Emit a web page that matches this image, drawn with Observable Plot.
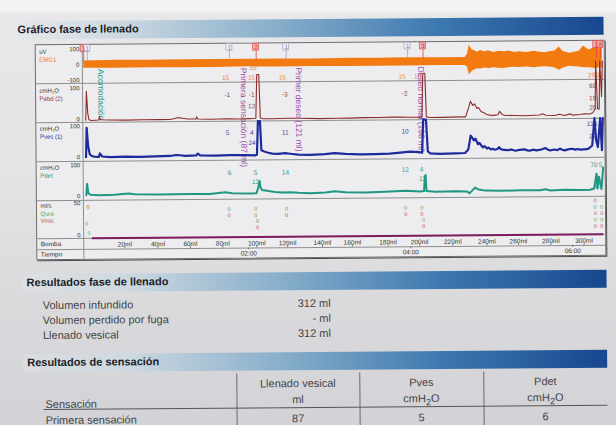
<!DOCTYPE html>
<html><head><meta charset="utf-8">
<script src="https://cdn.jsdelivr.net/npm/d3@7"></script>
<script src="https://cdn.jsdelivr.net/npm/@observablehq/plot@0.6"></script>
<style>
html,body{margin:0;padding:0;}
body{width:616px;height:425px;overflow:hidden;position:relative;font-family:"Liberation Sans",Arial,sans-serif;
 background:linear-gradient(180deg,#f4f4f4 0px,#f2f2f3 11px,#e7e7e9 14px,#e5e5e8 160px,#dadadd 300px,#d3d3d7 425px);}
#rot{position:absolute;left:0;top:0;width:616px;height:425px;transform:rotate(-0.45deg);transform-origin:308px 212px;}
.bar{position:absolute;height:18px;background:linear-gradient(90deg,rgba(228,233,236,0.3) 0%,#cdd9e1 18%,#86adca 45%,#3c78b0 72%,#17478f 100%);}
.bar span{position:absolute;left:4px;top:2px;font-weight:bold;font-size:11px;color:#1c1c26;}
#frame{position:absolute;left:36px;top:42px;width:568px;height:214px;border:1px solid #6c6c6c;box-shadow:1px 1px 0 #4a4a4a;background:#ededef;}
.row{position:absolute;left:0;width:568px;}
.hline{position:absolute;left:0;width:568px;height:1px;background:#8e8e8e;}
.vline{position:absolute;left:46px;top:0;width:1px;height:214px;background:#8e8e8e;}
.txt{position:absolute;font-size:11px;color:#444;white-space:nowrap;line-height:12px;}
.vl{position:absolute;width:1px;background:#6a6a6a;}
</style></head><body>
<div id="rot">
  <div class="bar" style="left:15px;top:19px;width:590px"><span>Gráfico fase de llenado</span></div>
  <div id="frame"><div class="vline"></div></div>
  <div class="bar" style="left:22px;top:272px;width:584px"><span>Resultados fase de llenado</span></div>
  <div id="res1"></div>
  <div class="bar" style="left:22px;top:352px;width:584px"><span>Resultados de sensación</span></div>
  <div id="res2"></div>
</div>
<script>
// ---------- DATA (time in minutes) ----------
const emgT  = [-0.02,0.40,0.79,1.20,1.60,2.02,2.40,2.80,3.26,3.60,4.00,4.40,4.69,4.72,4.74,4.78,4.81,4.84,4.88,4.93,4.98,5.05,5.10,5.17,5.24,5.30,5.36,5.45,5.54,5.62,5.68,5.73,5.80,5.85,5.90,5.98,6.04,6.10,6.15,6.22,6.27,6.30,6.35,6.383];
const emgHi = [25,27,26,28,27,27,28,26,28,27,28,27,28,50,105,75,70,60,72,64,70,58,66,62,68,58,62,56,64,58,54,60,65,90,62,50,56,62,95,70,80,92,75,85];
const emgLo = [-22,-24,-23,-24,-25,-22,-24,-23,-24,-25,-24,-23,-24,-35,-85,-60,-52,-45,-48,-42,-44,-40,-43,-45,-40,-38,-40,-37,-42,-38,-36,-38,-45,-60,-45,-35,-38,-40,-45,-45,-48,-50,-45,-45];

const pabdT = [0.00,0.01,0.025,0.04,0.07,0.16,0.17,0.18,0.30,0.50,
 0.70,0.90,1.04,1.10,1.14,1.19,1.26,1.36,1.37,1.38,
 1.55,1.75,1.90,2.02,2.10,2.115,2.14,2.155,2.18,2.30,
 2.50,2.64,2.89,3.10,3.26,3.45,3.63,3.80,3.88,4.00,
 4.15,4.165,4.19,4.205,4.25,4.40,4.62,4.69,4.73,4.75,
 4.78,4.80,4.83,4.85,4.88,4.91,4.95,4.99,5.04,5.09,
 5.11,5.14,5.17,5.30,5.42,5.60,5.64,5.68,5.79,5.85,
 5.91,5.98,6.01,6.10,6.16,6.22,6.26,6.29,6.30,6.32,
 6.34,6.35,6.37,6.383];
const pabdV = [-3,90,20,-2,-4,-3,8,-2,-3,-4,
 -3,-3,-3,0,3,1,-2,-2,5,-2,
 -3,-2,-3,-2,-1,140,140,0,-3,-3,
 -2,-2,-4,-3,-3,-2,-2,-1,-1,-2,
 -2,140,140,-1,-3,-3,-2,-2,30,48,
 35,40,25,28,15,12,5,3,2,4,
 15,5,2,1,0,2,6,1,0,4,
 0,5,1,3,5,4,8,20,175,20,
 20,175,60,175];

const pvesT = [0.00,0.01,0.025,0.045,0.07,0.10,0.16,0.17,0.20,0.30,
 0.48,0.67,0.85,1.04,1.11,1.16,1.23,1.36,1.38,1.41,
 1.59,1.78,1.96,2.09,2.11,2.125,2.15,2.165,2.20,2.25,
 2.30,2.37,2.46,2.52,2.62,2.77,2.95,3.07,3.20,3.38,
 3.57,3.75,3.88,4.00,4.10,4.15,4.165,4.20,4.22,4.25,
 4.37,4.56,4.68,4.72,4.75,4.79,4.81,4.84,4.86,4.88,
 4.90,4.92,4.95,4.97,5.00,5.02,5.05,5.08,5.10,5.12,
 5.14,5.17,5.20,5.25,5.30,5.35,5.42,5.45,5.48,5.52,
 5.56,5.60,5.64,5.67,5.70,5.73,5.78,5.82,5.85,5.88,
 5.91,5.95,6.00,6.04,6.07,6.10,6.15,6.20,6.25,6.28,
 6.30,6.32,6.35,6.37,6.383];
const pvesV = [0,95,40,10,4,2,1,12,2,0,
 1,0,1,2,5,4,2,3,9,3,
 2,3,3,2,4,112,112,18,14,10,
 7,6,8,6,3,2,4,7,4,2,
 3,4,7,10,8,6,113,113,10,4,
 2,3,4,15,60,45,50,32,36,28,
 22,26,18,21,15,17,14,16,22,16,
 14,13,12,14,10,13,14,11,10,13,
 11,12,15,18,13,10,13,11,16,12,
 10,13,15,12,14,12,13,14,25,113,
 40,20,113,10,113];

const pdetT = [0.00,0.01,0.025,0.05,0.17,0.35,0.52,0.60,0.90,1.28,
 1.52,1.72,1.80,2.02,2.10,2.12,2.14,2.15,2.17,2.25,
 2.33,2.42,2.52,2.62,2.77,2.95,3.07,3.20,3.44,3.69,
 3.94,4.12,4.17,4.18,4.19,4.20,4.31,4.56,4.70,4.73,
 4.77,4.80,4.84,4.93,5.11,5.36,5.60,5.67,5.73,5.91,
 6.10,6.22,6.27,6.30,6.31,6.33,6.36,6.383];
const pdetV = [3,40,10,5,3,4,8,5,4,5,
 4,9,6,5,5,20,45,25,16,12,
 9,7,8,6,4,6,10,6,5,7,
 10,7,8,55,60,8,6,7,6,0,
 10,18,12,8,7,8,8,11,7,9,
 8,8,12,60,12,50,10,80];

// event markers (top of EMG channel)
const markerT     = [-0.02,0.025,1.78,2.11,2.48,3.98,4.17,6.31,6.36];
const markerLabel = ["1","1","1","2","1","1","3","1","8"];
const markerKind  = ["red","gray","gray","red","gray","gray","red","red","red"];

// event annotations
const eventT    = [0.19,1.95,2.63,4.14];
const eventText = ["Acomodación","Primera sensación (87 ml)","Primer deseo (121 ml)","Deseo normal (198 ml)"];
const eventKind = ["auto","sens","sens","sens"];

// channel value annotations
const emgNumT = [1.73,2.05,2.07,2.43,3.91,4.10,6.25,6.35];
const emgNumY = [-92,-92,-28,-92,-92,-92,-92,-92];
const emgNum  = ["15","15","15","15","15","16","28","30"];
const pabdNumT = [1.75,2.05,2.05,2.46,3.94,6.26,6.26,6.26];
const pabdNumY = [75,75,38,75,75,95,55,25];
const pabdNum  = ["-1","-1","12","-3","-2","69","18","20"];
const pvesNumT = [1.75,2.05,2.05,2.46,3.94,6.25,6.26];
const pvesNumY = [75,75,42,75,75,95,55];
const pvesNum  = ["5","4","24","11","10","136","22"];
const pdetNumT = [1.77,2.09,2.09,2.46,3.94,4.14,4.15,6.27,6.35,6.30,6.30];
const pdetNumY = [72,72,42,72,78,78,48,88,88,52,22];
const pdetNum  = ["6","5","12","14","12","4","11","70","5","4","11"];
const flowNumT = [0.02,0.00,0.03, 1.76,1.76, 2.09,2.09,2.11,2.11, 2.47,2.47, 3.94,3.94, 4.14,4.14,4.16,4.16, 6.28,6.28,6.28,6.28,6.28, 6.36,6.36,6.36,6.36];
const flowNumY = [44,18,3, 39,29, 39,29,20,10, 39,29, 39,29, 39,29,20,10, 48,38,28,18,8, 38,28,18,8];
const flowNumS = ["Vmic","Qura","Qura", "Qura","Vmic", "Qura","Vmic","Qura","Vmic", "Qura","Vmic", "Qura","Vmic", "Qura","Vmic","Qura","Vmic", "Vmic","Qura","Vmic","Qura","Vmic", "Qura","Vmic","Qura","Vmic"];

// pump (Bomba) and time axis
const bombaMl = [20,40,60,80,100,120,140,160,180,200,220,240,260,280,300];
const bombaT  = [0.47,0.88,1.28,1.68,2.10,2.48,2.91,3.28,3.72,4.11,4.52,4.94,5.33,5.73,6.14];
const bombaStartT = 0.07, bombaEndT = 6.383;
const tiempoT = [2,4,6];
const tiempoLabel = ["02:00","04:00","06:00"];

// results
const resLabels = ["Volumen infundido","Volumen perdido por fuga","Llenado vesical"];
const resValues = ["312 ml","- ml","312 ml"];
const sensHead  = ["Llenado vesical","Pves","Pdet"];
const sensUnit  = ["ml","cmH<sub>2</sub>O","cmH<sub>2</sub>O"];
const sensRows  = [["Primera sensación","87","5","6"]];

// ---------- STYLE ----------
const C = {emg:"#f27a10", emgNum:"#e58a3c", pabd:"#8e2b2b", pabdNum:"#7d4848", pves:"#1d2b9c", pvesNum:"#3a47a0",
  pdet:"#1f9782", pdetNum:"#2f9a86", qura:"#5c9e3e", vmic:"#b4504a", sens:"#9a4dab", auto:"#2a9a88", bomba:"#7c1c5c", lab:"#333"};
const X_DOMAIN = [-0.037, 6.383];
const FONT = "'Liberation Sans', Arial, sans-serif";
const zip = (t, v) => t.map((d, i) => ({t: d, v: v[i]}));
const axisOpts = {anchor:"left", tickSize:0, tickPadding:3, fontSize:6, fill:"#333", label:null, tickFormat: d => String(d)};
const lab = (txt, dy, fill) => Plot.text([txt], {frameAnchor:"top-left", dx:-43, dy, textAnchor:"start", fontSize:6, fill: fill || C.lab});

function row(h, mt, mb, y, marks) {
  return Plot.plot({width:568, height:h, marginLeft:46, marginRight:2, marginTop:mt, marginBottom:mb,
    x:{domain:X_DOMAIN, axis:null}, y, color:{domain:["Qura","Vmic"], range:[C.qura, C.vmic]},
    style:{background:"transparent", overflow:"visible", fontFamily:FONT}, marks});
}

const markers = markerT.map((t,i)=>({t, label:markerLabel[i], kind:markerKind[i]}));
const events = eventT.map((t,i)=>({t, text:eventText[i], kind:eventKind[i]}));
const nums = (T, Y, S) => T.map((t,i)=>({t, y:Y[i], s:S[i]}));

const emgPlot = row(38, 4, 3, {domain:[-100,100]}, [
  Plot.areaY(emgT.map((t,i)=>({t, hi:emgHi[i], lo:emgLo[i]})), {x:"t", y1:"lo", y2:"hi", fill:C.emg}),
  Plot.axisY([-100,0,100], axisOpts),
  lab("uV", 0), lab("EMG1", 8, C.emg),
  Plot.ruleX(markers, {x:"t", y1:20, y2:82, stroke:d=>d.kind==="red"?"#e04545":"#a79cc0", strokeWidth:0.8}),
  Plot.rect(markers, {x1:"t", x2:"t", y1:82, y2:126, insetLeft:-3, insetRight:-3,
    fill:d=>d.kind==="red"?"#f3b0b0":"#f1eff5", stroke:d=>d.kind==="red"?"#e04545":"#a79cc0", strokeWidth:0.7}),
  Plot.text(markers, {x:"t", y:104, text:"label", fontSize:6, fill:d=>d.kind==="red"?"#d02828":"#7d70a5"}),
  Plot.text(nums(emgNumT, emgNumY, emgNum), {x:"t", y:"y", text:"s", fontSize:6.5, fill:C.emgNum}),
  Plot.text(events, {x:"t", y:-28, text:"text", rotate:90, textAnchor:"start", fontSize:8.5,
    fill:d=>d.kind==="auto"?C.auto:C.sens})
]);

const pabdPlot = row(39, 5, 3, {domain:[0,100]}, [
  Plot.axisY([0,100], axisOpts),
  lab("cmH₂O", 0), lab("Pabd (2)", 8, C.pabd),
  Plot.text(nums(pabdNumT, pabdNumY, pabdNum), {x:"t", y:"y", text:"s", fontSize:6.5, fill:C.pabdNum}),
  Plot.line(zip(pabdT, pabdV), {x:"t", y:"v", stroke:C.pabd, strokeWidth:1.1})
]);

const pvesPlot = row(39, 4, 4, {domain:[0,100]}, [
  Plot.axisY([0,100], axisOpts),
  lab("cmH₂O", 0), lab("Pves (1)", 8, C.pves),
  Plot.text(nums(pvesNumT, pvesNumY, pvesNum), {x:"t", y:"y", text:"s", fontSize:6.5, fill:C.pvesNum}),
  Plot.line(zip(pvesT, pvesV), {x:"t", y:"v", stroke:C.pves, strokeWidth:2.2})
]);

const pdetPlot = row(39, 4, 4, {domain:[0,100]}, [
  Plot.axisY([0,100], axisOpts),
  lab("cmH₂O", 0), lab("Pdet", 8, C.pdet),
  Plot.text(nums(pdetNumT, pdetNumY, pdetNum), {x:"t", y:"y", text:"s", fontSize:6.5, fill:C.pdetNum}),
  Plot.line(zip(pdetT, pdetV), {x:"t", y:"v", stroke:C.pdet, strokeWidth:2})
]);

const flowPlot = row(38, 3, 3, {domain:[0,50]}, [
  Plot.axisY([0,50], axisOpts),
  lab("ml/s", 0), lab("Qura", 8, C.qura), lab("Vmic", 15, C.vmic),
  Plot.text(nums(flowNumT, flowNumY, flowNumS), {x:"t", y:"y", text:()=>"0", fontSize:5.5, fill:"s"})
]);

const bombaPlot = row(11, 0, 0, {domain:[0,1], axis:null}, [
  Plot.ruleY([1], {x1:bombaStartT, x2:bombaEndT, stroke:C.bomba, strokeWidth:2}),
  Plot.ruleX(bombaT, {x:d=>d, y1:0, y2:0.18, stroke:"#555", strokeWidth:0.7}),
  Plot.text(bombaMl, {x:(d,i)=>bombaT[i], y:0.42, text:d=>d+"ml", fontSize:6.5, fill:"#333"}),
  Plot.text(["Bomba"], {frameAnchor:"left", dx:-43, dy:0, textAnchor:"start", fontSize:6.5, fill:"#333"})
]);

const tiempoPlot = row(10, 0, 0, {domain:[0,1], axis:null}, [
  Plot.ruleX(tiempoT, {x:d=>d, y1:0.8, y2:1, stroke:"#555", strokeWidth:0.7}),
  Plot.text(tiempoT, {x:d=>d, y:0.45, text:(d,i)=>tiempoLabel[i], fontSize:6.5, fill:"#333"}),
  Plot.text(["Tiempo"], {frameAnchor:"left", dx:-43, textAnchor:"start", fontSize:6.5, fill:"#333"})
]);

// ---------- LAYOUT ----------
const frameEl = document.getElementById("frame");
const rowList = [[38, emgPlot],[39, pabdPlot],[39, pvesPlot],[39, pdetPlot],[38, flowPlot],[11, bombaPlot],[10, tiempoPlot]];
let acc = 0;
for (const [h] of rowList) { acc += h; if (acc < 214) { const l = document.createElement("div"); l.className = "hline"; l.style.top = acc + "px"; frameEl.append(l); } }
acc = 0;
for (const [h, p] of rowList) { const d = document.createElement("div"); d.className = "row"; d.style.top = acc + "px"; d.style.height = h + "px"; d.append(p); frameEl.append(d); acc += h; }

const res1 = document.getElementById("res1");
resLabels.forEach((s, i) => {
  res1.insertAdjacentHTML("beforeend", `<div class="txt" style="left:42px;top:${297 + i*15}px">${s}</div>`);
  res1.insertAdjacentHTML("beforeend", `<div class="txt" style="left:230px;width:100px;text-align:right;top:${297 + i*15}px">${resValues[i]}</div>`);
});
const res2 = document.getElementById("res2");
const colL = [235, 358, 482, 606];
[0,1,2].forEach(i => res2.insertAdjacentHTML("beforeend", `<div class="vl" style="left:${colL[i]}px;top:373px;height:60px"></div>`));
sensHead.forEach((s, i) => {
  const l = colL[i], w = colL[i+1] - colL[i];
  res2.insertAdjacentHTML("beforeend", `<div class="txt" style="left:${l}px;width:${w}px;text-align:center;top:377px">${s}</div>`);
  res2.insertAdjacentHTML("beforeend", `<div class="txt" style="left:${l}px;width:${w}px;text-align:center;top:393px">${sensUnit[i]}</div>`);
});
res2.insertAdjacentHTML("beforeend", `<div class="txt" style="left:44px;top:396px">Sensación</div>`);
res2.insertAdjacentHTML("beforeend", `<div style="position:absolute;left:42px;top:407px;width:564px;height:1px;background:#555"></div>`);
sensRows.forEach((r, j) => {
  res2.insertAdjacentHTML("beforeend", `<div class="txt" style="left:44px;top:${412 + j*15}px">${r[0]}</div>`);
  r.slice(1).forEach((v, i) => {
    const l = colL[i], w = colL[i+1] - colL[i];
    res2.insertAdjacentHTML("beforeend", `<div class="txt" style="left:${l}px;width:${w}px;text-align:center;top:${412 + j*15}px">${v}</div>`);
  });
});
</script>
</body></html>
